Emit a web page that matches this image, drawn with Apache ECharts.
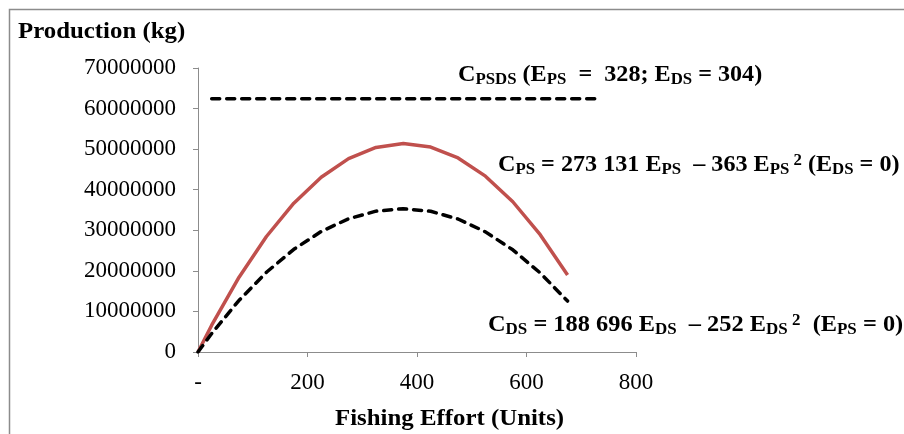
<!DOCTYPE html>
<html><head><meta charset="utf-8">
<script src="https://cdn.jsdelivr.net/npm/echarts@6/dist/echarts.min.js"></script>
<style>html,body{margin:0;padding:0;background:#fff}#c{width:904px;height:434px}</style>
</head><body><div id="c"></div>
<script>
const effort = [0, 25, 75, 125, 175, 225, 275, 325, 375, 425, 475, 525, 575, 625, 675];
const cPS = [0, 6601400, 18442950, 28469500, 36681050, 43077600, 47659150, 50425700, 51377250, 50513800, 47835350, 43341900, 37033450, 28910000, 18971550];
const cDS = [0, 4559900, 12734700, 19649500, 25304300, 29699100, 32833900, 34708700, 35323500, 34678300, 32773100, 29607900, 25182700, 19497500, 12552300];
const psdsX = [25, 725];
const psdsY = [62400000, 62400000];
const yTicks = [0, 10000000, 20000000, 30000000, 40000000, 50000000, 60000000, 70000000];
const xTicks = [0, 200, 400, 600, 800];

const font = '"Liberation Serif", "Times New Roman", serif';
const pair = (xs, ys) => xs.map((x, i) => [x, ys[i]]);
const rich = {
  m: {fontFamily: font, fontWeight: 'bold', fontSize: 23, color: '#000'},
  s: {fontFamily: font, fontWeight: 'bold', fontSize: 16, color: '#000', padding: [10, 0, 0, 0]},
  p: {fontFamily: font, fontWeight: 'bold', fontSize: 16, color: '#000', padding: [0, 0, 9, 0]}
};
const dashStyle = {color: '#000', width: 3.5, type: [8, 7], cap: 'round'};
const chart = echarts.init(document.getElementById('c'), null, {renderer: 'canvas'});
chart.setOption({
  animation: false,
  backgroundColor: '#fff',
  grid: {left: 198, right: 268, top: 68, bottom: 82},
  xAxis: {
    type: 'value', min: 0, max: 800, interval: 200,
    axisLine: {lineStyle: {color: '#8c8c8c', width: 1}},
    axisTick: {show: true, length: 5, lineStyle: {color: '#8c8c8c'}},
    splitLine: {show: false},
    axisLabel: {fontFamily: font, fontSize: 23, color: '#000', margin: 19,
      formatter: v => v === 0 ? '-' : String(v)}
  },
  yAxis: {
    type: 'value', min: 0, max: 70000000, interval: 10000000,
    axisLine: {show: true, lineStyle: {color: '#8c8c8c', width: 1}},
    axisTick: {show: true, length: 5, lineStyle: {color: '#8c8c8c'}},
    splitLine: {show: false},
    axisLabel: {fontFamily: font, fontSize: 23, color: '#000', margin: 22,
      formatter: v => String(v)}
  },
  series: [
    {type: 'line', data: pair(effort, cPS), symbol: 'none', lineStyle: {color: '#C0504D', width: 3.5}},
    {type: 'line', data: pair(effort, cDS), symbol: 'none', lineStyle: dashStyle},
    {type: 'line', data: pair(psdsX, psdsY), symbol: 'none', lineStyle: dashStyle}
  ],
  graphic: [
    {type: 'rect', left: 7, top: 7, shape: {width: 920, height: 450}, style: {fill: 'none', stroke: '#8c8c8c', lineWidth: 1.5}},
    {type: 'text', x: 18, y: 21, scaleX: 1.08, style: {text: 'Production (kg)', font: 'bold 23px ' + font, fill: '#000'}},
    {type: 'text', x: 335, y: 408, scaleX: 1.08, style: {text: 'Fishing Effort (Units)', font: 'bold 23px ' + font, fill: '#000'}},
    {type: 'text', x: 458, y: 62, scaleX: 1.05, style: {text: '{m|C}{s|PSDS}{m| (E}{s|PS}{m|  =  328; E}{s|DS}{m| = 304)}', rich}},
    {type: 'text', x: 498, y: 152, scaleX: 1.05, style: {text: '{m|C}{s|PS}{m| = 273 131 E}{s|PS}{m|  – 363 E}{s|PS}{p| 2}{m| (E}{s|DS}{m| = 0)}', rich}},
    {type: 'text', x: 488, y: 312, scaleX: 1.06, style: {text: '{m|C}{s|DS}{m| = 188 696 E}{s|DS}{m|  – 252 E}{s|DS}{p| 2}{m|  (E}{s|PS}{m| = 0)}', rich}}
  ]
});
</script></body></html>
